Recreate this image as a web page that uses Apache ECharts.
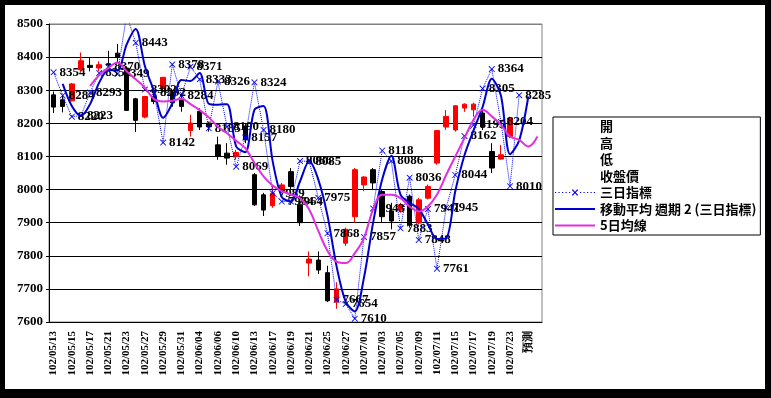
<!DOCTYPE html>
<html>
<head>
<meta charset="utf-8">
<script src="https://cdn.jsdelivr.net/npm/echarts@6/dist/echarts.min.js"></script>
<style>
html, body { margin: 0; padding: 0; background: #000; }
#container { width: 771px; height: 398px; }
</style>
</head>
<body>
<div id="container"></div>
<script>
var dates = ['102/05/13','102/05/14','102/05/15','102/05/16','102/05/17','102/05/20','102/05/21','102/05/22','102/05/23','102/05/24',
    '102/05/27','102/05/28','102/05/29','102/05/30','102/05/31','102/06/03','102/06/04','102/06/05','102/06/06','102/06/07',
    '102/06/10','102/06/11','102/06/13','102/06/14','102/06/17','102/06/18','102/06/19','102/06/20','102/06/21','102/06/24',
    '102/06/25','102/06/26','102/06/27','102/06/28','102/07/01','102/07/02','102/07/03','102/07/04','102/07/05','102/07/08',
    '102/07/09','102/07/10','102/07/11','102/07/12','102/07/15','102/07/16','102/07/17','102/07/18','102/07/19','102/07/22',
    '102/07/23','102/07/24','預測',''];

var opens  = [8286,8271,8268,8362,8375,8367,8380,8412,8367,8274, 8219,8281,8306,8290,8273,8178,8236,8201,8135,8110,
              8100,8192,8045,7984,7951,7994,8054,7954,7778,7787, 7749,7660,7838,7918,8014,8060,7994,7935,7938,7980,
              7899,7974,8080,8189,8180,8246,8241,8231,8115,8092, 8160];
var closes = [8249,8251,8319,8389,8369,8377,8376,8400,8239,8209, 8281,8266,8339,8262,8251,8201,8189,8190,8100,8095,
              8112,8150,7954,7938,7989,8014,8009,7900,7790,7757, 7664,7700,7880,8060,8038,8020,7918,7905,7954,7893,
              7969,8009,8178,8221,8253,8258,8258,8191,8065,8105, 8216];
var lows   = [8231,8233,8266,8357,8357,8357,8362,8382,8239,8174, 8215,8258,8296,8250,8235,8160,8180,8175,8090,8075,
              8090,8140,7950,7920,7945,7990,8000,7890,7738,7745, 7660,7640,7830,7900,7995,8000,7900,7880,7930,7885,
              7895,7970,8075,8180,8175,8235,8220,8180,8050,8090, 8155];
var highs  = [8296,8286,8322,8414,8397,8387,8419,8440,8372,8277, 8283,8290,8340,8300,8290,8226,8245,8205,8160,8140,
              8120,8200,8050,7990,8010,8020,8065,7970,7813,7813, 7770,7720,7885,8065,8040,8065,8000,7960,7960,7985,
              7975,8015,8180,8240,8255,8260,8262,8240,8140,8135, 8220];

// 三日指標
var threeDay = [8354,8284,8220,8223,8293,8352,8370,8349,8527,8443, 8302,8292,8142,8378,8284,8371,8333,8185,8326,8190,
                8069,8157,8324,8180,7989,7964,7964,8086,8085,7975, 7868,7667,7654,7610,7857,7943,8118,8086,7883,8036,
                7848,7941,7761,7945,8044,8162,8195,8305,8364,8204, 8010,8285,null,null];
// 移動平均 週期 2 (三日指標)
var movAvg2 = [null,8319,8252,8222,8258,8323,8361,8360,8438,8485, 8373,8297,8217,8260,8331,8328,8352,8259,8256,8258,
               8130,8113,8241,8252,8085,7977,7964,8025,8086,8030, 7922,7768,7661,7632,7734,7900,8031,8102,7985,7960,
               7942,7895,7851,7853,7995,8103,8179,8250,8335,8284, 8107,8148,8281,null];
// 5日均線
var ma5 = [null,null,null,null,8313,8345,8367,8384,8357,8333, 8308,8273,8266,8268,8274,8258,8240,8218,8190,8170,
           8147,8125,8080,8040,8012,7995,7985,7974,7940,7875, 7815,7782,7778,7808,7853,7940,7984,7984,7974,7949,
           7934,7949,7985,8044,8100,8155,8211,8241,8221,8196, 8160,8150,8130,8160];

var candles = opens.map(function (o, i) {
    return [o, closes[i], lows[i], highs[i]];
});

var xMark = 'path://M0,0L1,0L5,4L9,0L10,0L10,1L6,5L10,9L10,10L9,10L5,6L1,10L0,10L0,9L4,5L0,1Z';
var bar = 'path://M0,0L40,0L40,2L0,2Z';
// dotted line with a small x in the middle, for the legend
var dotX = 'path://M0,2.5h1.2v1h-1.2zM3.5,2.5h1.2v1h-1.2zM7,2.5h1.2v1h-1.2zM10.5,2.5h1.2v1h-1.2zM14,2.5h1.2v1h-1.2z' +
    'M17,0L18,0L20,2.2L22,0L23,0L23,0.8L20.8,3L23,5.2L23,6L22,6L20,3.8L18,6L17,6L17,5.2L19.2,3L17,0.8Z' +
    'M25,2.5h1.2v1h-1.2zM28.5,2.5h1.2v1h-1.2zM32,2.5h1.2v1h-1.2zM35.5,2.5h1.2v1h-1.2zM38.8,2.5h1.2v1h-1.2z';
var serif = '"Liberation Serif", "DejaVu Serif", serif';
var cjk = '"Noto Sans CJK TC", "Noto Sans CJK SC", sans-serif';

var dom = document.getElementById("container");
var myChart = echarts.init(dom);

var gridLines = ['#000','#000','#000','#000','#000','#000','#000','#000','#000','#808080'];

var option = {
    backgroundColor: '#000',
    animation: false,
    graphic: [{
        type: 'rect',
        z: -10,
        shape: { x: 5, y: 5, width: 760, height: 384 },
        style: { fill: '#fff' }
    }],
    grid: {
        left: 49, top: 24, width: 493, height: 298,
        show: true, borderColor: '#808080', borderWidth: 1, backgroundColor: 'transparent'
    },
    legend: {
        orient: 'vertical',
        left: 553, top: 117,
        backgroundColor: '#fff',
        borderColor: '#000', borderWidth: 1,
        padding: [3, 4, 3, 2],
        itemWidth: 40, itemHeight: 12, itemGap: 3.5,
        textStyle: { fontFamily: cjk, fontWeight: 'bold', fontSize: 13, color: '#000' },
        data: [
            { name: '開', icon: 'none' },
            { name: '高', icon: 'none' },
            { name: '低', icon: 'none' },
            { name: '收盤價', icon: 'none' },
            { name: '三日指標', icon: dotX },
            { name: '移動平均 週期 2 (三日指標)', icon: bar },
            { name: '5日均線', icon: bar }
        ]
    },
    xAxis: {
        type: 'category',
        data: dates,
        boundaryGap: true,
        axisLine: { lineStyle: { color: '#000', width: 1 } },
        axisTick: { inside: true, interval: 0, length: 3, lineStyle: { color: '#000' } },
        axisLabel: {
            interval: 1, rotate: 90, margin: 9,
            fontFamily: serif, fontWeight: 'bold', fontSize: 11, color: '#000'
        },
        splitLine: { show: false }
    },
    yAxis: {
        type: 'value',
        min: 7600, max: 8500, interval: 100,
        axisLine: { show: true, lineStyle: { color: '#000' } },
        axisTick: { show: true, length: 3, lineStyle: { color: '#000' } },
        axisLabel: {
            margin: 6, fontFamily: serif, fontWeight: 'bold', fontSize: 13, color: '#000',
            formatter: function (v) { return String(v); }
        },
        splitLine: { show: true, lineStyle: { color: gridLines, width: 1 } }
    },
    series: [
        { name: '開', type: 'line', data: [] },
        { name: '高', type: 'line', data: [] },
        { name: '低', type: 'line', data: [] },
        {
            name: '收盤價',
            type: 'candlestick',
            data: candles,
            barWidth: 5,
            itemStyle: {
                color: '#ff0000', color0: '#000000',
                borderColor: '#ff0000', borderColor0: '#000000',
                borderWidth: 1
            }
        },
        {
            name: '三日指標',
            type: 'line',
            data: threeDay,
            symbol: xMark,
            symbolSize: 6,
            showAllSymbol: true,
            connectNulls: false,
            itemStyle: { color: '#0000ff' },
            lineStyle: { color: '#0000ff', width: 1, type: 'dotted' },
            label: {
                show: true, position: 'right', distance: 3,
                fontFamily: serif, fontWeight: 'bold', fontSize: 13, color: '#000'
            },
            z: 3
        },
        {
            name: '移動平均 週期 2 (三日指標)',
            type: 'line',
            data: movAvg2,
            symbol: 'none',
            smooth: 0.3,
            itemStyle: { color: '#0000cc' },
            lineStyle: { color: '#0000cc', width: 2 },
            z: 4
        },
        {
            name: '5日均線',
            type: 'line',
            data: ma5,
            symbol: 'none',
            smooth: 0.4,
            itemStyle: { color: '#e030e0' },
            lineStyle: { color: '#e030e0', width: 2 },
            z: 4
        }
    ]
};

myChart.setOption(option);
</script>
</body>
</html>
